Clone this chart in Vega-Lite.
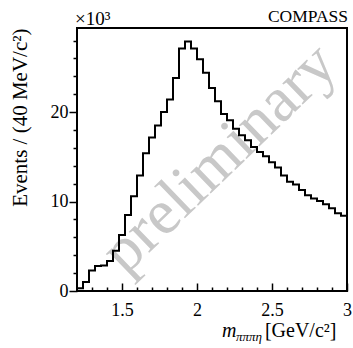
{
  "$schema": "https://vega.github.io/schema/vega-lite/v6.json",
  "width": 270,
  "height": 263,
  "autosize": {"type": "none"},
  "padding": {"left": 77, "top": 28, "right": 6, "bottom": 57},
  "background": "white",
  "config": {
    "view": {"stroke": "black", "strokeWidth": 2},
    "axis": {"labelFont": "Liberation Serif", "titleFont": "Liberation Serif", "labelColor": "black", "titleColor": "black", "tickColor": "black", "titleFontWeight": "normal", "grid": false, "domain": false, "tickWidth": 1.5, "labelFontSize": 18, "titleFontSize": 21}
  },
  "layer": [
    {
      "data": {"values": [{"label": "preliminary", "x": 2.15, "y": 14.8}]},
      "mark": {"type": "text", "font": "Liberation Serif", "fontSize": 64, "angle": -44, "color": "#c8c8c8", "align": "center", "baseline": "middle"},
      "encoding": {
        "text": {"field": "label"},
        "x": {"field": "x", "type": "quantitative", "scale": {"domain": [1.2, 3], "nice": false, "zero": false}, "axis": null},
        "y": {"field": "y", "type": "quantitative", "scale": {"domain": [0, 29.4], "nice": false}, "axis": null}
      }
    },
    {
      "data": {"values": [
        {"lo": 1.20, "hi": 1.24, "n": 0.3},
        {"lo": 1.24, "hi": 1.28, "n": 1.0},
        {"lo": 1.28, "hi": 1.32, "n": 2.3},
        {"lo": 1.32, "hi": 1.36, "n": 2.8},
        {"lo": 1.36, "hi": 1.40, "n": 2.85},
        {"lo": 1.40, "hi": 1.44, "n": 3.35},
        {"lo": 1.44, "hi": 1.48, "n": 4.5},
        {"lo": 1.48, "hi": 1.52, "n": 6.25},
        {"lo": 1.52, "hi": 1.56, "n": 8.5},
        {"lo": 1.56, "hi": 1.60, "n": 10.6},
        {"lo": 1.60, "hi": 1.64, "n": 12.9},
        {"lo": 1.64, "hi": 1.68, "n": 15.4},
        {"lo": 1.68, "hi": 1.72, "n": 17.15},
        {"lo": 1.72, "hi": 1.76, "n": 18.5},
        {"lo": 1.76, "hi": 1.80, "n": 20.0},
        {"lo": 1.80, "hi": 1.84, "n": 21.4},
        {"lo": 1.84, "hi": 1.88, "n": 23.8},
        {"lo": 1.88, "hi": 1.92, "n": 27.1},
        {"lo": 1.92, "hi": 1.96, "n": 27.9},
        {"lo": 1.96, "hi": 2.00, "n": 27.1},
        {"lo": 2.00, "hi": 2.04, "n": 25.9},
        {"lo": 2.04, "hi": 2.08, "n": 24.4},
        {"lo": 2.08, "hi": 2.12, "n": 22.7},
        {"lo": 2.12, "hi": 2.16, "n": 21.2},
        {"lo": 2.16, "hi": 2.20, "n": 19.8},
        {"lo": 2.20, "hi": 2.24, "n": 19.1},
        {"lo": 2.24, "hi": 2.28, "n": 18.15},
        {"lo": 2.28, "hi": 2.32, "n": 17.4},
        {"lo": 2.32, "hi": 2.36, "n": 16.85},
        {"lo": 2.36, "hi": 2.40, "n": 16.1},
        {"lo": 2.40, "hi": 2.44, "n": 15.55},
        {"lo": 2.44, "hi": 2.48, "n": 15.05},
        {"lo": 2.48, "hi": 2.52, "n": 14.4},
        {"lo": 2.52, "hi": 2.56, "n": 13.8},
        {"lo": 2.56, "hi": 2.60, "n": 12.9},
        {"lo": 2.60, "hi": 2.64, "n": 12.2},
        {"lo": 2.64, "hi": 2.68, "n": 11.9},
        {"lo": 2.68, "hi": 2.72, "n": 11.3},
        {"lo": 2.72, "hi": 2.76, "n": 10.7},
        {"lo": 2.76, "hi": 2.80, "n": 10.35},
        {"lo": 2.80, "hi": 2.84, "n": 10.05},
        {"lo": 2.84, "hi": 2.88, "n": 9.7},
        {"lo": 2.88, "hi": 2.92, "n": 9.25},
        {"lo": 2.92, "hi": 2.96, "n": 8.7},
        {"lo": 2.96, "hi": 3.00, "n": 8.4}
      ]},
      "transform": [{"fold": ["lo", "hi"], "as": ["edge", "x"]}],
      "mark": {"type": "line", "color": "black", "strokeWidth": 2, "strokeJoin": "miter", "strokeCap": "square"},
      "encoding": {
        "x": {"field": "x", "type": "quantitative", "scale": {"domain": [1.2, 3], "nice": false, "zero": false},
          "axis": {"orient": "bottom", "values": [1.5, 2, 2.5, 3], "format": "~g", "tickSize": -8, "labelPadding": 18, "title": null, "labelFlush": false}},
        "y": {"field": "n", "type": "quantitative", "scale": {"domain": [0, 29.4], "nice": false},
          "axis": {"orient": "left", "values": [0, 10, 20], "tickSize": 8, "labelPadding": 1, "title": "Events / (40 MeV/c²)", "titleAnchor": "end", "titlePadding": 20, "labelFlush": false}},
        "order": [{"field": "x", "type": "quantitative"}, {"field": "edge", "type": "nominal"}]
      }
    },
    {
      "data": {"values": [{"label": "COMPASS", "x": 3, "y": 29.4}]},
      "mark": {"type": "text", "font": "Liberation Serif", "fontSize": 17.5, "color": "black", "align": "right", "baseline": "alphabetic", "dy": -6, "dx": 1},
      "encoding": {
        "text": {"field": "label"},
        "x": {"field": "x", "type": "quantitative", "scale": {"domain": [1.2, 3], "nice": false, "zero": false},
          "axis": {"orient": "bottom", "values": [1.3, 1.4, 1.6, 1.7, 1.8, 1.9, 2.1, 2.2, 2.3, 2.4, 2.6, 2.7, 2.8, 2.9], "tickSize": -4, "labels": false, "title": null}},
        "y": {"field": "y", "type": "quantitative", "scale": {"domain": [0, 29.4], "nice": false},
          "axis": {"orient": "left", "values": [2, 4, 6, 8, 12, 14, 16, 18, 22, 24, 26, 28], "tickSize": 4, "labels": false, "title": null}}
      }
    },
    {
      "data": {"values": [{"label": "×10³", "x": 1.2, "y": 29.4}]},
      "mark": {"type": "text", "font": "Liberation Serif", "fontSize": 19, "color": "black", "align": "left", "baseline": "alphabetic", "dy": -3, "dx": -2},
      "encoding": {
        "text": {"field": "label"},
        "x": {"field": "x", "type": "quantitative", "scale": {"domain": [1.2, 3], "nice": false, "zero": false}, "axis": null},
        "y": {"field": "y", "type": "quantitative", "scale": {"domain": [0, 29.4], "nice": false}, "axis": null}
      }
    },
    {
      "data": {"values": [{"label": "m", "x": 2.167, "y": 0}]},
      "mark": {"type": "text", "font": "Liberation Serif", "fontSize": 20, "fontStyle": "italic", "color": "black", "align": "left", "baseline": "alphabetic", "dy": 46},
      "encoding": {
        "text": {"field": "label"},
        "x": {"field": "x", "type": "quantitative", "scale": {"domain": [1.2, 3], "nice": false, "zero": false}, "axis": null},
        "y": {"field": "y", "type": "quantitative", "scale": {"domain": [0, 29.4], "nice": false}, "axis": null}
      }
    },
    {
      "data": {"values": [{"label": "πππη", "x": 2.26, "y": 0}]},
      "mark": {"type": "text", "font": "Liberation Serif", "fontSize": 13, "fontStyle": "italic", "color": "black", "align": "left", "baseline": "alphabetic", "dy": 50},
      "encoding": {
        "text": {"field": "label"},
        "x": {"field": "x", "type": "quantitative", "scale": {"domain": [1.2, 3], "nice": false, "zero": false}, "axis": null},
        "y": {"field": "y", "type": "quantitative", "scale": {"domain": [0, 29.4], "nice": false}, "axis": null}
      }
    },
    {
      "data": {"values": [{"label": "[GeV/c²]", "x": 2.453, "y": 0}]},
      "mark": {"type": "text", "font": "Liberation Serif", "fontSize": 20, "color": "black", "align": "left", "baseline": "alphabetic", "dy": 46},
      "encoding": {
        "text": {"field": "label"},
        "x": {"field": "x", "type": "quantitative", "scale": {"domain": [1.2, 3], "nice": false, "zero": false}, "axis": null},
        "y": {"field": "y", "type": "quantitative", "scale": {"domain": [0, 29.4], "nice": false}, "axis": null}
      }
    }
  ],
  "resolve": {"axis": {"x": "independent", "y": "independent"}}
}
